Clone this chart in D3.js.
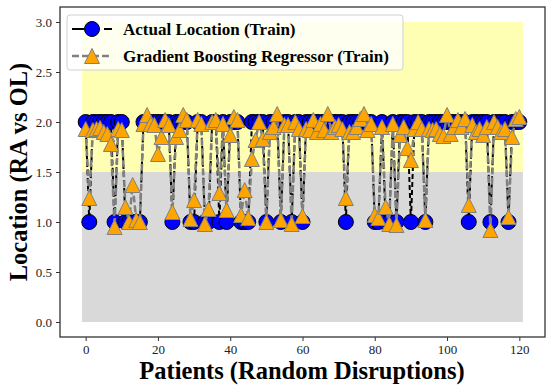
<!DOCTYPE html>
<html>
<head>
<meta charset="utf-8">
<script src="https://cdn.jsdelivr.net/npm/d3@7"></script>
<style>
  body { margin: 0; background: #fff; }
  text { font-family: "Liberation Serif", "DejaVu Serif", serif; }
  .tick text { font-size: 13px; fill: #222; }
  .tick line { stroke: #333; }
</style>
</head>
<body>
<div id="chart"></div>
<script>
// ---------- data ----------
var actualLoc = [
  2,1,2,2,2,2,2,2,1,2,
  2,1,1,1,1,1,2,2,2,2,
  2,2,2,2,1,2,2,2,2,1,
  1,2,2,1,1,2,2,1,2,1,
  2,2,2,1,1,1,2,2,2,2,
  1,2,2,2,1,2,2,1,2,2,
  1,2,2,2,2,2,2,2,2,2,
  2,2,1,2,2,2,2,2,2,2,
  1,1,2,1,1,2,1,2,2,2,
  1,2,2,2,1,2,2,2,2,2,
  2,2,2,2,2,2,1,2,2,2,
  2,2,1,2,2,2,2,1,2,2,
  2
];
var gbrPred = [
  1.93,1.24,1.92,1.93,1.94,1.90,1.88,1.78,0.95,1.93,
  1.92,1.15,1.00,1.37,1.02,1.00,1.98,2.07,1.98,1.97,
  1.68,1.85,2.02,1.97,1.10,1.85,1.92,2.07,2.02,1.03,
  1.22,2.02,1.98,0.98,1.13,2.00,2.02,1.29,1.98,1.12,
  1.87,2.05,2.02,1.07,1.32,1.04,1.63,1.82,2.00,1.83,
  1.00,1.90,1.95,2.08,1.02,1.97,1.97,0.98,2.00,1.93,
  1.06,1.93,1.92,2.02,1.90,1.98,1.92,2.08,1.90,1.95,
  1.97,1.93,1.24,1.90,1.90,1.95,2.03,2.08,1.92,1.98,
  1.07,1.04,1.95,1.15,0.98,1.98,0.97,1.87,1.95,1.74,
  1.62,1.93,2.00,1.93,1.02,1.93,1.92,1.93,1.88,1.86,
  2.07,1.88,1.95,2.02,1.95,2.03,1.17,1.97,1.90,1.93,
  1.87,1.95,0.92,2.00,1.95,1.90,1.93,1.05,1.85,2.03,
  2.05
];
var bandX = [-1, 121];
var bandLow = [0, 1.5];     // grey: RA region
var bandHigh = [1.5, 3.0];  // yellow: OL region
var xTicks = [0, 20, 40, 60, 80, 100, 120];
var yTicks = [0, 0.5, 1.0, 1.5, 2.0, 2.5, 3.0];
var seriesNames = ["Actual Location (Train)", "Gradient Boosting Regressor (Train)"];

// ---------- layout ----------
var width = 550, height = 389,
    margin = {top: 7, right: 5, bottom: 52, left: 60},
    x0 = margin.left, x1 = width - margin.right,
    y0 = height - margin.bottom, y1 = margin.top;

var xScale = d3.scaleLinear().domain([-7.1, 127.1]).range([x0, x1]),
    yScale = d3.scaleLinear().domain([-0.15, 3.15]).range([y0, y1]);

var svg = d3.select("#chart").append("svg")
    .attr("width", width)
    .attr("height", height);

// background bands
svg.append("rect")
    .attr("x", xScale(bandX[0]))
    .attr("y", yScale(bandLow[1]))
    .attr("width", xScale(bandX[1]) - xScale(bandX[0]))
    .attr("height", yScale(bandLow[0]) - yScale(bandLow[1]))
    .attr("fill", "#d9d9d9");

svg.append("rect")
    .attr("x", xScale(bandX[0]))
    .attr("y", yScale(bandHigh[1]))
    .attr("width", xScale(bandX[1]) - xScale(bandX[0]))
    .attr("height", yScale(bandHigh[0]) - yScale(bandHigh[1]))
    .attr("fill", "#ffffb3");

// lines
var lineA = d3.line()
    .x(function(d, i) { return xScale(i); })
    .y(function(d) { return yScale(d); });

function triPath(s) {
  var h = s / 2;
  return "M0," + (-h) + "L" + (-h) + "," + h + "L" + h + "," + h + "Z";
}

svg.append("path").datum(actualLoc)
    .attr("d", lineA)
    .attr("fill", "none")
    .attr("stroke", "#000")
    .attr("stroke-width", 2)
    .attr("stroke-dasharray", "5,3");

svg.selectAll("circle.act")
    .data(actualLoc)
    .enter()
    .append("circle")
    .attr("class", "act")
    .attr("cx", function(d, i) { return xScale(i); })
    .attr("cy", function(d) { return yScale(d); })
    .attr("r", 7.5)
    .attr("fill", "#0000ff")
    .attr("stroke", "#000")
    .attr("stroke-width", 1);

svg.append("path").datum(gbrPred)
    .attr("d", lineA)
    .attr("fill", "none")
    .attr("stroke", "#808080")
    .attr("stroke-width", 2.5)
    .attr("stroke-dasharray", "7,3");

svg.selectAll("path.pred")
    .data(gbrPred)
    .enter()
    .append("path")
    .attr("class", "pred")
    .attr("d", triPath(15))
    .attr("transform", function(d, i) {
      return "translate(" + xScale(i) + "," + yScale(d) + ")";
    })
    .attr("fill", "#ffa500")
    .attr("stroke", "#808080")
    .attr("stroke-width", 1);

// axes
svg.append("g")
    .attr("transform", "translate(0," + y0 + ")")
    .call(d3.axisBottom(xScale).tickValues(xTicks).tickSize(4).tickPadding(4))
    .call(function(g) { g.select(".domain").remove(); });

svg.append("g")
    .attr("transform", "translate(" + x0 + ",0)")
    .call(d3.axisLeft(yScale).tickValues(yTicks).tickFormat(d3.format(".1f")).tickSize(4).tickPadding(4))
    .call(function(g) { g.select(".domain").remove(); });

// frame
svg.append("rect")
    .attr("x", x0)
    .attr("y", y1)
    .attr("width", x1 - x0)
    .attr("height", y0 - y1)
    .attr("fill", "none")
    .attr("stroke", "#333")
    .attr("stroke-width", 1.3);

// axis labels
svg.append("text")
    .attr("x", 302)
    .attr("y", 379)
    .attr("text-anchor", "middle")
    .style("font-size", "24.5px")
    .style("font-weight", "bold")
    .text("Patients (Random Disruptions)");

svg.append("text")
    .attr("transform", "translate(27," + ((y0 + y1) / 2) + ") rotate(-90)")
    .attr("text-anchor", "middle")
    .style("font-size", "24.5px")
    .style("font-weight", "bold")
    .text("Location (RA vs OL)");

// legend
var legend = svg.append("g").attr("class", "legend");

legend.append("rect")
    .attr("x", 67).attr("y", 15)
    .attr("width", 336).attr("height", 55)
    .attr("rx", 3)
    .attr("fill", "#fff")
    .attr("fill-opacity", 0.8)
    .attr("stroke", "#d0d0d0");

var rows = [29, 56];

legend.append("line")
    .attr("x1", 72).attr("x2", 112)
    .attr("y1", rows[0]).attr("y2", rows[0])
    .attr("stroke", "#000").attr("stroke-width", 2)
    .attr("stroke-dasharray", "12,4");
legend.append("circle")
    .attr("cx", 92).attr("cy", rows[0]).attr("r", 7.5)
    .attr("fill", "#0000ff").attr("stroke", "#000");

legend.append("line")
    .attr("x1", 72).attr("x2", 112)
    .attr("y1", rows[1]).attr("y2", rows[1])
    .attr("stroke", "#808080").attr("stroke-width", 2.5)
    .attr("stroke-dasharray", "7,3");
legend.append("path")
    .attr("d", triPath(15))
    .attr("transform", "translate(92," + rows[1] + ")")
    .attr("fill", "#ffa500").attr("stroke", "#808080");

legend.selectAll("text.lab")
    .data(seriesNames)
    .enter()
    .append("text")
    .attr("class", "lab")
    .attr("x", 123)
    .attr("y", function(d, i) { return rows[i]; })
    .attr("dy", "0.35em")
    .style("font-size", "17px")
    .style("font-weight", "bold")
    .text(function(d) { return d; });
</script>
</body>
</html>
